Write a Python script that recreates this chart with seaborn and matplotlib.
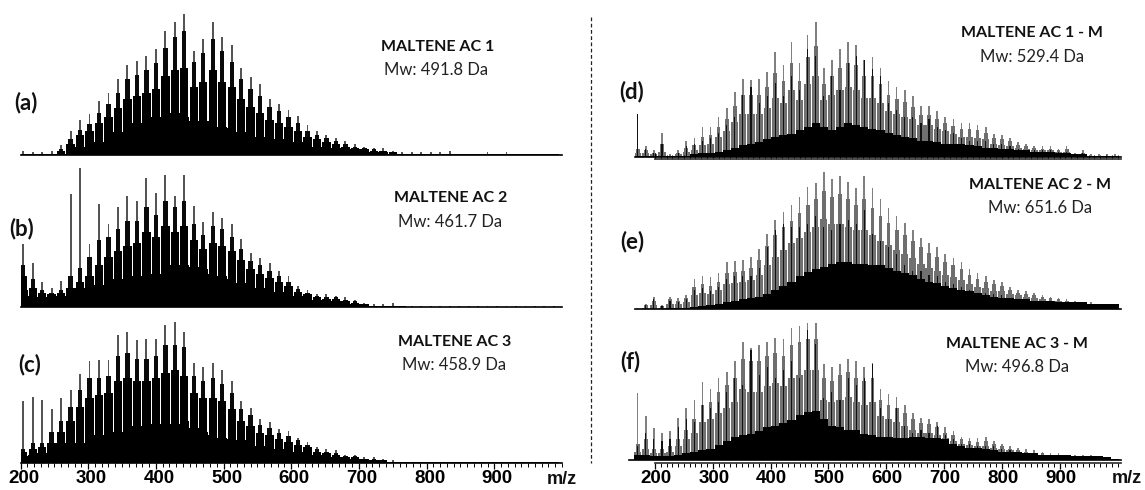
import matplotlib
matplotlib.use("Agg")
import matplotlib.pyplot as plt
from matplotlib.lines import Line2D
from matplotlib.ticker import FixedLocator
from matplotlib.transforms import ScaledTranslation
import seaborn as sns

mz_left = list(range(204, 1000, 14))
mz_right = list(range(170, 1000, 14))

a_tops = [3,2,2,3,7,17,25,29,38,44,
          54,64,67,70,75,88,94,100,74,82,
          94,84,78,62,55,50,40,36,32,28,
          21,17,14,12,10,8,6,5,5,3,
          2,2,2,2,2,3,1,1,1,2,
          1,2,1,1,1,1,1]
a_shoulders = [1,1,1,1,4,11,18,22,30,36,
               44,54,57,60,65,76,84,88,66,72,
               82,74,66,54,47,42,34,31,27,23,
               17,14,12,10,8,6,5,4,3,2,
               1,1,1,1,1,1,.5,.5,.5,.5,
               .5,.5,.5,.5,.5,.5,.5]
a_mid = [1,1,1,1,3,8,14,17,23,27,
         33,40,42,44,47,56,60,62,48,52,
         60,52,48,40,34,30,25,23,20,17,
         13,11,9,8,6,5,4,3,3,2,
         1,1,1,1,1,1,.5,.5,.5,.5,
         .5,.5,.5,.5,.5,.5,.5]
a_floor = [.5,.5,.5,.5,1,4,6,7,9,12,
           16,20,23,24,27,29,30,27,24,24,
           24,20,19,16,13,13,12,11,10,9,
           7,6,6,5,4,4,3,2,2,1,
           1,.5,.5,.5,.5,.5,.5,.5,.5,.5,
           .5,.5,.5,.5,.5,.5,.5]

b_tops = [45,32,18,14,19,81,100,45,74,60,
          72,80,76,93,82,95,80,95,73,61,
          68,64,60,49,39,35,32,26,22,15,
          12,9,9,8,7,5,3,2,2,3,
          1,.5,.5,.5,.5,.5,.5,.5,.5,.5,
          .5,.5,.5,.5,.5,.5,.5]
b_shoulders = [30,20,12,10,12,22,28,36,48,50,
               56,62,62,72,66,76,72,76,60,52,
               58,56,50,42,33,30,26,22,18,13,
               10,8,7,7,5,4,2,1,1,1,
               .5,.3,.3,.3,.3,.3,.3,.3,.3,.3,
               .3,.3,.3,.3,.3,.3,.3]
b_mid = [22,14,10,9,10,14,18,22,30,36,
         40,44,46,54,50,58,54,58,48,42,
         46,44,40,34,27,24,21,18,15,11,
         9,7,6,6,4,3,2,1,1,1,
         .5,.3,.3,.3,.3,.3,.3,.3,.3,.3,
         .3,.3,.3,.3,.3,.3,.3]
b_floor = [12,8,7,7,8,2,14,14,16,18,
           20,22,22,23,24,24,30,30,29,27,
           24,22,20,17,15,14,12,11,10,8,
           7,5,5,4,4,2,1,.5,.5,.5,
           .3,.3,.3,.3,.3,.3,.3,.3,.3,.3,
           .3,.3,.3,.3,.3,.3,.3]

c_tops = [44,47,45,38,46,52,63,72,73,73,
          91,93,87,88,88,98,100,93,71,68,
          71,66,58,44,39,31,29,24,23,18,
          15,11,10,9,6,6,4,4,3,2,
          1,1,1,1,1,1,1,1,1,1,
          1,1,1,1,1,1,1]
c_shoulders = [10,14,14,22,30,40,52,60,60,62,
               76,78,74,74,76,84,84,82,62,58,
               60,56,50,38,34,27,25,21,19,16,
               13,10,8,7,5,5,3,3,2,1,
               .5,.5,.5,.5,.5,.5,.5,.5,.5,.5,
               .5,.5,.5,.5,.5,.5,.5]
c_mid = [8,10,11,14,22,30,40,46,48,50,
         58,60,58,58,60,64,66,62,50,46,
         46,44,38,30,26,21,20,17,15,13,
         11,8,7,6,4,4,3,2,2,1,
         .5,.5,.5,.5,.5,.5,.5,.5,.5,.5,
         .5,.5,.5,.5,.5,.5,.5]
c_floor = [5,6,7,1,14,10,14,18,20,20,
           22,24,26,26,28,26,28,30,25,22,
           20,18,17,16,14,12,11,10,9,8,
           7,6,5,4,3,3,2,2,1,1,
           .5,.5,.5,.5,.5,.5,.5,.5,.5,.5,
           .5,.5,.5,.5,.5,.5,.5]

d_tops = [32,8,5,18,2,5,12,14,22,22,
          30,36,48,58,57,58,63,78,68,85,
          70,90,100,66,72,80,85,83,72,74,
          66,56,52,50,45,38,38,34,30,28,
          25,25,24,22,17,16,14,11,10,8,
          8,8,6,8,3,5,2,2,2,2]
d_shoulders = [6,5,3,10,1,3,7,9,15,16,
               22,28,38,46,46,46,52,62,56,70,
               56,74,82,54,60,66,70,68,60,60,
               54,46,43,41,37,31,31,28,25,23,
               21,21,20,18,14,13,12,9,8,7,
               6,6,5,6,2,3,1,1,1,1]
d_mid = [3,3,2,4,1,2,4,5,9,10,
         15,19,26,32,32,32,36,44,40,50,
         42,54,60,42,46,50,52,50,44,44,
         40,34,32,30,28,24,24,21,19,17,
         15,15,14,13,10,9,8,7,6,5,
         5,5,4,4,2,2,1,1,1,1]
d_dark = [32,6,3,10,1,3,8,10,12,14,
          18,24,30,46,52,40,45,55,45,60,
          50,80,75,45,60,50,70,75,72,65,
          60,40,35,30,30,25,28,22,20,18,
          14,12,12,12,10,10,8,6,5,5,
          5,5,4,4,2,3,1,1,1,1]
d_floor = [1,1,1,1,1,1,1,2,3,3,
           4,5,7,9,10,11,13,15,16,17,
           20,22,25,22,20,22,25,24,22,21,
           20,18,16,15,14,12,12,11,10,10,
           10,9,8,7,7,6,6,5,5,4,
           4,4,3,3,2,2,1,1,1,1]

e_tops = [.5,4,9,3,9,8,10,22,24,23,
          26,34,35,36,38,44,55,65,71,76,
          82,89,92,100,95,97,93,88,97,88,
          80,74,68,63,58,52,48,45,40,37,
          34,29,26,24,21,20,16,14,13,12,
          10,9,8,7,6,5,5,4,4,4]
e_shoulders = [.3,3,6,2,7,6,8,16,18,17,
               20,26,27,28,30,36,46,54,60,64,
               70,76,80,86,82,84,80,76,80,74,
               68,63,58,54,50,45,41,38,34,32,
               29,25,22,20,18,17,14,12,11,10,
               9,8,7,6,5,4,4,4,3,3]
e_mid = [.3,1,3,1,4,4,5,10,12,11,
         14,18,19,20,21,25,32,38,43,48,
         52,56,60,66,62,62,60,58,58,54,
         50,47,43,40,37,33,30,28,25,23,
         21,18,16,15,13,13,11,10,9,8,
         7,6,6,5,4,4,4,4,3,3]
e_dark = [0,3,7,2,6,5,7,14,15,13,
          16,22,24,24,24,30,45,58,62,60,
          60,62,68,60,58,62,65,62,72,55,
          50,45,40,32,28,28,25,24,20,18,
          16,14,12,12,11,10,8,7,6,6,
          5,5,4,4,4,4,4,4,4,4]
e_floor = [.3,.3,.3,.3,.5,.5,1,1.5,2,3,
           4,5,6,7,8,9,11,14,17,20,
           24,27,29,31,33,34,34,33,33,32,
           32,30,28,26,25,22,20,19,17,15,
           14,13,12,10,9,8,8,7,7,6,
           6,6,5,5,5,5,4,4,4,4]

f_tops = [49,32,23,20,21,31,38,44,57,52,
          60,64,72,86,82,84,86,89,88,96,
          98,100,100,70,68,70,74,72,68,71,
          52,48,46,40,34,31,30,28,24,21,
          17,16,16,17,14,12,10,9,8,7,
          6,5,5,4,4,4,4,3,2,1]
f_shoulders = [12,15,8,8,10,15,22,30,40,42,
               50,55,60,74,72,72,76,78,76,84,
               86,88,88,60,58,62,64,60,58,60,
               44,40,38,34,30,27,26,24,20,18,
               15,14,13,14,12,10,8,7,6,5,
               5,4,4,3,3,3,3,2,1.5,1]
f_mid = [6,8,5,5,6,10,15,20,28,30,
         34,38,42,52,50,50,54,56,54,60,
         62,66,66,44,42,44,46,42,40,42,
         32,30,28,25,22,20,20,18,16,14,
         12,11,10,10,9,8,7,6,5,4,
         4,3,3,3,3,3,3,2,1.5,1]
f_dark = [10,20,15,14,15,24,30,28,40,38,
          42,50,60,55,80,62,68,60,66,72,
          60,95,85,45,50,44,60,55,60,70,
          38,30,38,25,20,22,20,25,18,15,
          12,12,10,10,10,8,7,6,5,5,
          4,4,3,3,3,3,2,2,1,1]
f_floor = [4,4,3,3,3,4,5,6,7,8,
           11,14,17,18,19,21,24,25,27,29,
           33,35,36,30,25,24,22,22,19,18,
           17,17,16,16,17,17,16,16,15,12,
           10,9,9,8,7,6,6,6,5,5,
           4,4,4,4,3,3,3,3,2,1]

titles = ["MALTENE AC 1", "MALTENE AC 2", "MALTENE AC 3",
          "MALTENE AC 1 - M", "MALTENE AC 2 - M", "MALTENE AC 3 - M"]
mw_labels = ["Mw: 491.8 Da", "Mw: 461.7 Da", "Mw: 458.9 Da",
             "Mw: 529.4 Da", "Mw: 651.6 Da", "Mw: 496.8 Da"]
letters = ["(a)", "(b)", "(c)", "(d)", "(e)", "(f)"]
tick_values = [200, 300, 400, 500, 600, 700, 800, 900]
minor_ticks = list(range(200, 1001, 10))

sns.set_theme(style="white")
plt.rcParams["font.family"] = ["Lato", "DejaVu Sans"]

W, H = 1145, 490
fig = plt.figure(figsize=(W / 100, H / 100), dpi=100, facecolor="white")


def panel(x0, x1, base, top, xlim):
    ax = fig.add_axes([x0 / W, 1 - base / H, (x1 - x0) / W, (base - top) / H])
    ax.patch.set_alpha(0)
    ax.set_xlim(*xlim)
    ax.set_ylim(0, 100)
    return ax


def bars(ax, mz, values, frac, color):
    sns.barplot(x=mz, y=values, native_scale=True, width=frac, color=color,
                saturation=1, linewidth=0, errorbar=None, ax=ax)


def finish(ax, xlim):
    ax.set_xlim(*xlim)
    ax.set_ylim(0, 100)
    ax.set_ylabel("")
    ax.set_xlabel("")
    ax.set_yticks([])
    ax.set_xticks([])
    sns.despine(ax=ax, left=True)
    ax.spines["bottom"].set_color("black")
    ax.spines["bottom"].set_linewidth(1.2)


def tick_scale(ax, labelled=True, direction="out", shift_px=3):
    ax.set_xticks(tick_values)
    ax.xaxis.set_minor_locator(FixedLocator(minor_ticks))
    if labelled:
        ax.set_xticklabels([str(v) for v in tick_values], fontweight="bold",
                           fontsize=13.5, family="Liberation Sans")
    else:
        ax.set_xticklabels([])
    ax.tick_params(axis="x", which="major", bottom=True, direction=direction,
                   length=4.5, width=0.9, pad=0.5, colors="black")
    ax.tick_params(axis="x", which="minor", bottom=True, direction=direction,
                   length=3, width=0.7, colors="black")
    shift = ScaledTranslation(shift_px / 100, 0, fig.dpi_scale_trans)
    for lab in ax.get_xticklabels():
        lab.set_transform(lab.get_transform() + shift)


left_lim = (200, 1000)
right_lim = (155, 1006)
top_right_lim = (155 + 6 / 0.578, 1006)
left_spec = [(a_tops, a_shoulders, a_mid, a_floor, 155, 14),
             (b_tops, b_shoulders, b_mid, b_floor, 307, 168),
             (c_tops, c_shoulders, c_mid, c_floor, 463, 322)]
for i, (tops, shoulders, mid, floor, base, top) in enumerate(left_spec):
    ax = panel(20.5, 562, base, top, left_lim)
    bars(ax, mz_left, tops, 0.2, "#555555")
    bars(ax, mz_left, shoulders, 0.46, "#0a0a0a")
    bars(ax, mz_left, mid, 0.88, "#000000")
    bars(ax, mz_left, floor, 1.0, "#000000")
    finish(ax, left_lim)
    if i == 2:
        tick_scale(ax)

right_spec = [(d_tops, d_shoulders, d_mid, d_dark, d_floor, 157, 22),
              (e_tops, e_shoulders, e_mid, e_dark, e_floor, 309, 172),
              (f_tops, f_shoulders, f_mid, f_dark, f_floor, 460, 323)]
for i, (tops, shoulders, mid, dark, floor, base, top) in enumerate(right_spec):
    lim = right_lim if i == 2 else top_right_lim
    ax = panel(629 if i == 2 else 635, 1121, base, top, lim)
    bars(ax, mz_right, tops, 0.2, "#808080")
    bars(ax, mz_right, shoulders, 0.46, "#6e6e6e")
    bars(ax, mz_right, mid, 0.88, "#707070")
    bars(ax, mz_right, dark, 0.14, "#111111")
    bars(ax, mz_right, floor, 1.0, "#000000")
    finish(ax, lim)

# separate m/z rulers under the spectra (d) and (f)
for base, labelled, direction in [(463, True, "out"), (159, False, "in")]:
    ruler = panel(629, 1121, base, base - 2, right_lim)
    sns.despine(ax=ruler, left=True)
    ruler.spines["bottom"].set_bounds(200, 1006)
    ruler.spines["bottom"].set_color("#333333")
    ruler.set_yticks([])
    tick_scale(ruler, labelled, direction, shift_px=1)

title_pos = [(438, 47), (451, 198), (455, 342), (1032, 33), (1040, 185), (1017, 344)]
mw_pos = [(436, 70), (450, 222), (454, 365), (1032, 57), (1040, 208), (1017, 367)]
letter_pos = [(26, 103), (22, 229), (30, 365), (632, 92), (632, 242), (630, 362)]
for txt, (x, y) in zip(titles, title_pos):
    fig.text(x / W, 1 - y / H, txt, ha="center", va="center", fontsize=11.5,
             fontweight="bold", color="#111111")
for txt, (x, y) in zip(mw_labels, mw_pos):
    fig.text(x / W, 1 - y / H, txt, ha="center", va="center", fontsize=12,
             color="#222222")
for txt, (x, y) in zip(letters, letter_pos):
    fig.text(x / W, 1 - y / H, txt, ha="center", va="center", fontsize=16,
             fontweight="bold", color="#111111")
for x, y in ((562, 479), (1127, 478)):
    fig.text(x / W, 1 - y / H, "m/z", ha="center", va="center", fontsize=13,
             fontweight="bold", family="Liberation Sans", color="#111111")

fig.add_artist(Line2D([591 / W, 591 / W], [1 - 17 / H, 1 - 463 / H], color="#222222",
                      linewidth=0.9, linestyle=(0, (3, 2))))
fig.savefig("out.png", dpi=100)
